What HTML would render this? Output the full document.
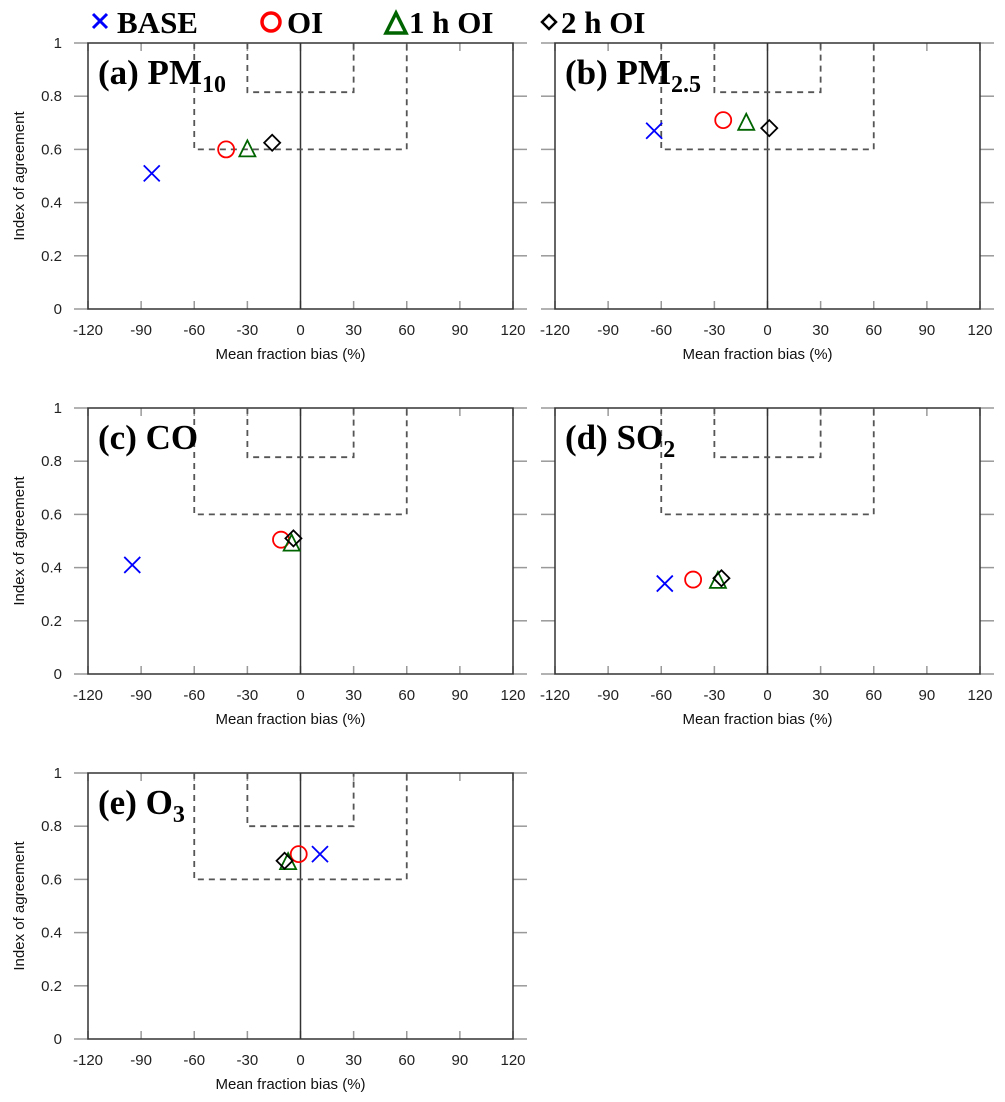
<!DOCTYPE html>
<html><head><meta charset="utf-8"><style>
body{margin:0;background:#fff;}
svg{display:block;}
</style></head><body>
<svg id="c" width="1005" height="1102" xmlns="http://www.w3.org/2000/svg">
<g font-family="Liberation Serif, serif" font-weight="bold" font-size="31">
  <g>
    <path d="M93,14 L107,28 M107,14 L93,28" stroke="#0000ff" stroke-width="3"/>
    <text x="117" y="33">BASE</text></g>
  <g>
    <circle cx="271" cy="22" r="9" fill="none" stroke="#ff0000" stroke-width="3.5"/>
    <text x="287" y="33">OI</text></g>
  <g>
    <path d="M386,33 L396,13 L406,33 Z" fill="none" stroke="#006400" stroke-width="3.5"/>
    <text x="409" y="33">1 h OI</text></g>
  <g>
    <path d="M549,15 L556,22 L549,29 L542,22 Z" fill="none" stroke="#000" stroke-width="2.5"/>
    <text x="561" y="33">2 h OI</text></g>
</g>
</svg>
<script>
const panelNames=["pm10","pm25","co","so2","o3"];
const panelTitles=[["(a) PM","10"],["(b) PM","2.5"],["(c) CO",""],["(d) SO","2"],["(e) O","3"]];
const baseX=[-84,-64,-95,-58,11];
const baseY=[0.51,0.67,0.41,0.34,0.695];
const oiX=[-42,-25,-11,-42,-1];
const oiY=[0.60,0.71,0.505,0.355,0.695];
const oi1X=[-30,-12,-5,-28,-7];
const oi1Y=[0.60,0.70,0.49,0.35,0.665];
const oi2X=[-16,1,-4,-26,-9];
const oi2Y=[0.625,0.68,0.51,0.36,0.67];
const innerTop=[0.815,0.815,0.815,0.815,0.80];
const xTicks=[-120,-90,-60,-30,0,30,60,90,120];
const yTicks=[0,0.2,0.4,0.6,0.8,1];
const yTickLabels=["0","0.2","0.4","0.6","0.8","1"];

const NS="http://www.w3.org/2000/svg";
const svg=document.getElementById('c');
function mk(tag,attrs,parent){const e=document.createElementNS(NS,tag);for(const k in attrs)e.setAttribute(k,attrs[k]);parent.appendChild(e);return e;}
const origins=[[88,43],[555,43],[88,408],[555,408],[88,773]];
const W=425,H=266;
panelNames.forEach((nm,i)=>{
  const [ox,oy]=origins[i];
  const sx=v=>ox+(v+120)/240*W;
  const sy=v=>oy+H-v*H;
  const g=mk('g',{},svg);
  
  
  xTicks.forEach(t=>{
    const a=mk('line',{x1:sx(t),x2:sx(t),y1:oy+H,y2:oy+H-8,stroke:'#999','stroke-width':1.5},g);
     
    mk('line',{x1:sx(t),x2:sx(t),y1:oy,y2:oy+8,stroke:'#999','stroke-width':1.5},g);
    const tx=mk('text',{x:sx(t),y:oy+H+26,'text-anchor':'middle','font-family':'Liberation Sans, sans-serif','font-size':15,fill:'#222'},g);
    tx.textContent=t;  
  });
  yTicks.forEach((t,j)=>{
    mk('line',{x1:ox-14,x2:ox,y1:sy(t),y2:sy(t),stroke:'#999','stroke-width':1.5},g);
    mk('line',{x1:ox+W,x2:ox+W+14,y1:sy(t),y2:sy(t),stroke:'#999','stroke-width':1.5},g);
    if(i%2===0){
      const ty=mk('text',{x:ox-26,y:sy(t)+5,'text-anchor':'end','font-family':'Liberation Sans, sans-serif','font-size':15,fill:'#222'},g);
      ty.textContent=yTickLabels[j];  
    }
  });
  const fr=mk('rect',{x:ox,y:oy,width:W,height:H,fill:'none',stroke:'#333','stroke-width':1.5},g);
   
  const zl=mk('line',{x1:sx(0),x2:sx(0),y1:oy,y2:oy+H,stroke:'#333','stroke-width':1.5},g);
   
  const ob=mk('path',{d:`M${sx(-60)},${sy(1)} L${sx(-60)},${sy(0.6)} L${sx(60)},${sy(0.6)} L${sx(60)},${sy(1)}`,fill:'none',stroke:'#555','stroke-width':1.8,'stroke-dasharray':'6,5'},g);
   
  const ib=mk('path',{d:`M${sx(-30)},${sy(1)} L${sx(-30)},${sy(innerTop[i])} L${sx(30)},${sy(innerTop[i])} L${sx(30)},${sy(1)}`,fill:'none',stroke:'#555','stroke-width':1.8,'stroke-dasharray':'6,5'},g);
   
  const tt=mk('text',{x:ox+10,y:oy+41,'font-family':'Liberation Serif, serif','font-weight':'bold','font-size':35,fill:'#000'},g);
   
  tt.appendChild(document.createTextNode(panelTitles[i][0]));
  if(panelTitles[i][1]){const s=mk('tspan',{'font-size':24,dy:8},tt);s.textContent=panelTitles[i][1];}
  const xt=mk('text',{x:ox+W/2-10,y:oy+H+50,'text-anchor':'middle','font-family':'Liberation Sans, sans-serif','font-size':15,fill:'#111'},g);
  xt.textContent='Mean fraction bias  (%)';  
  if(i%2===0){
    const yt=mk('text',{x:0,y:0,transform:`translate(${ox-64},${oy+H/2}) rotate(-90)`,'text-anchor':'middle','font-family':'Liberation Sans, sans-serif','font-size':15,fill:'#111'},g);
    yt.textContent='Index of agreement';  
  }
  let x=sx(baseX[i]),y=sy(baseY[i]);
  const m1=mk('path',{d:`M${x-8},${y-8} L${x+8},${y+8} M${x+8},${y-8} L${x-8},${y+8}`,stroke:'#0000ff','stroke-width':1.8,fill:'none'},g);
   
  x=sx(oiX[i]);y=sy(oiY[i]);
  const m2=mk('circle',{cx:x,cy:y,r:8,fill:'none',stroke:'#ff0000','stroke-width':1.8},g);
   
  x=sx(oi1X[i]);y=sy(oi1Y[i]);
  const m3=mk('path',{d:`M${x-8},${y+7} L${x},${y-9} L${x+8},${y+7} Z`,stroke:'#006400','stroke-width':1.8,fill:'none'},g);
   
  x=sx(oi2X[i]);y=sy(oi2Y[i]);
  const m4=mk('path',{d:`M${x},${y-8} L${x+8},${y} L${x},${y+8} L${x-8},${y} Z`,stroke:'#000','stroke-width':1.8,fill:'none'},g);
   
});
</script>
</body></html>
